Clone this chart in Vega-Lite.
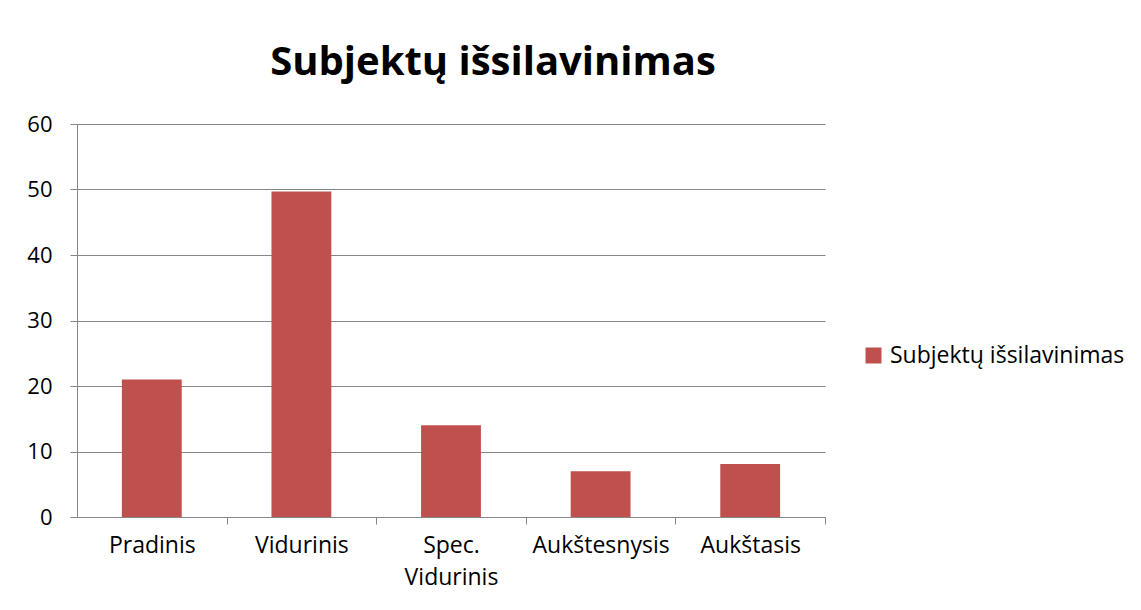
{
  "$schema": "https://vega.github.io/schema/vega-lite/v6.json",
  "autosize": {"type": "none"},
  "width": 748,
  "height": 393,
  "padding": {"left": 77, "top": 124, "right": 316, "bottom": 93},
  "background": "white",
  "title": {
    "text": "Subjektų išsilavinimas",
    "font": "Open Sans",
    "fontSize": 40,
    "fontWeight": "bold",
    "color": "#000000",
    "anchor": "middle",
    "dx": 42,
    "offset": 30
  },
  "data": {
    "values": [
      {"category": "Pradinis", "value": 21, "series": "Subjektų išsilavinimas"},
      {"category": "Vidurinis", "value": 49.7, "series": "Subjektų išsilavinimas"},
      {"category": "Spec. Vidurinis", "value": 14, "series": "Subjektų išsilavinimas"},
      {"category": "Aukštesnysis", "value": 7, "series": "Subjektų išsilavinimas"},
      {"category": "Aukštasis", "value": 8.1, "series": "Subjektų išsilavinimas"}
    ]
  },
  "mark": {"type": "bar"},
  "encoding": {
    "x": {
      "field": "category",
      "type": "nominal",
      "sort": null,
      "scale": {"paddingInner": 0.6, "paddingOuter": 0.3},
      "axis": {
        "title": null,
        "labelAngle": 0,
        "ticks": true,
        "tickOffset": 74.8,
        "labelOffset": -74.8,
        "labelExpr": "datum.label == 'Spec. Vidurinis' ? ['Spec.', 'Vidurinis'] : datum.label",
        "labelFont": "Open Sans",
        "labelFontSize": 23,
        "labelColor": "#000000",
        "labelPadding": 10,
        "labelLineHeight": 32,
        "labelBaseline": "top",
        "labelLimit": 0,
        "domainColor": "#868686",
        "tickColor": "#868686",
        "tickSize": 7,
        "grid": false
      }
    },
    "y": {
      "field": "value",
      "type": "quantitative",
      "scale": {"domain": [0, 60]},
      "axis": {
        "title": null,
        "values": [0, 10, 20, 30, 40, 50, 60],
        "labelFont": "Open Sans",
        "labelFontSize": 22,
        "labelColor": "#000000",
        "labelPadding": 18,
        "domainColor": "#868686",
        "tickColor": "#868686",
        "tickSize": 7,
        "gridColor": "#868686",
        "grid": true
      }
    },
    "color": {
      "field": "series",
      "type": "nominal",
      "scale": {"range": ["#C0504D"]},
      "legend": {
        "title": null,
        "orient": "none",
        "legendX": 785,
        "legendY": 220,
        "symbolType": "square",
        "symbolSize": 256,
        "symbolStrokeWidth": 0,
        "labelFont": "Open Sans",
        "labelFontSize": 23,
        "labelColor": "#000000",
        "labelOffset": 5,
        "labelLimit": 0
      }
    }
  },
  "config": {
    "view": {"stroke": null}
  }
}
